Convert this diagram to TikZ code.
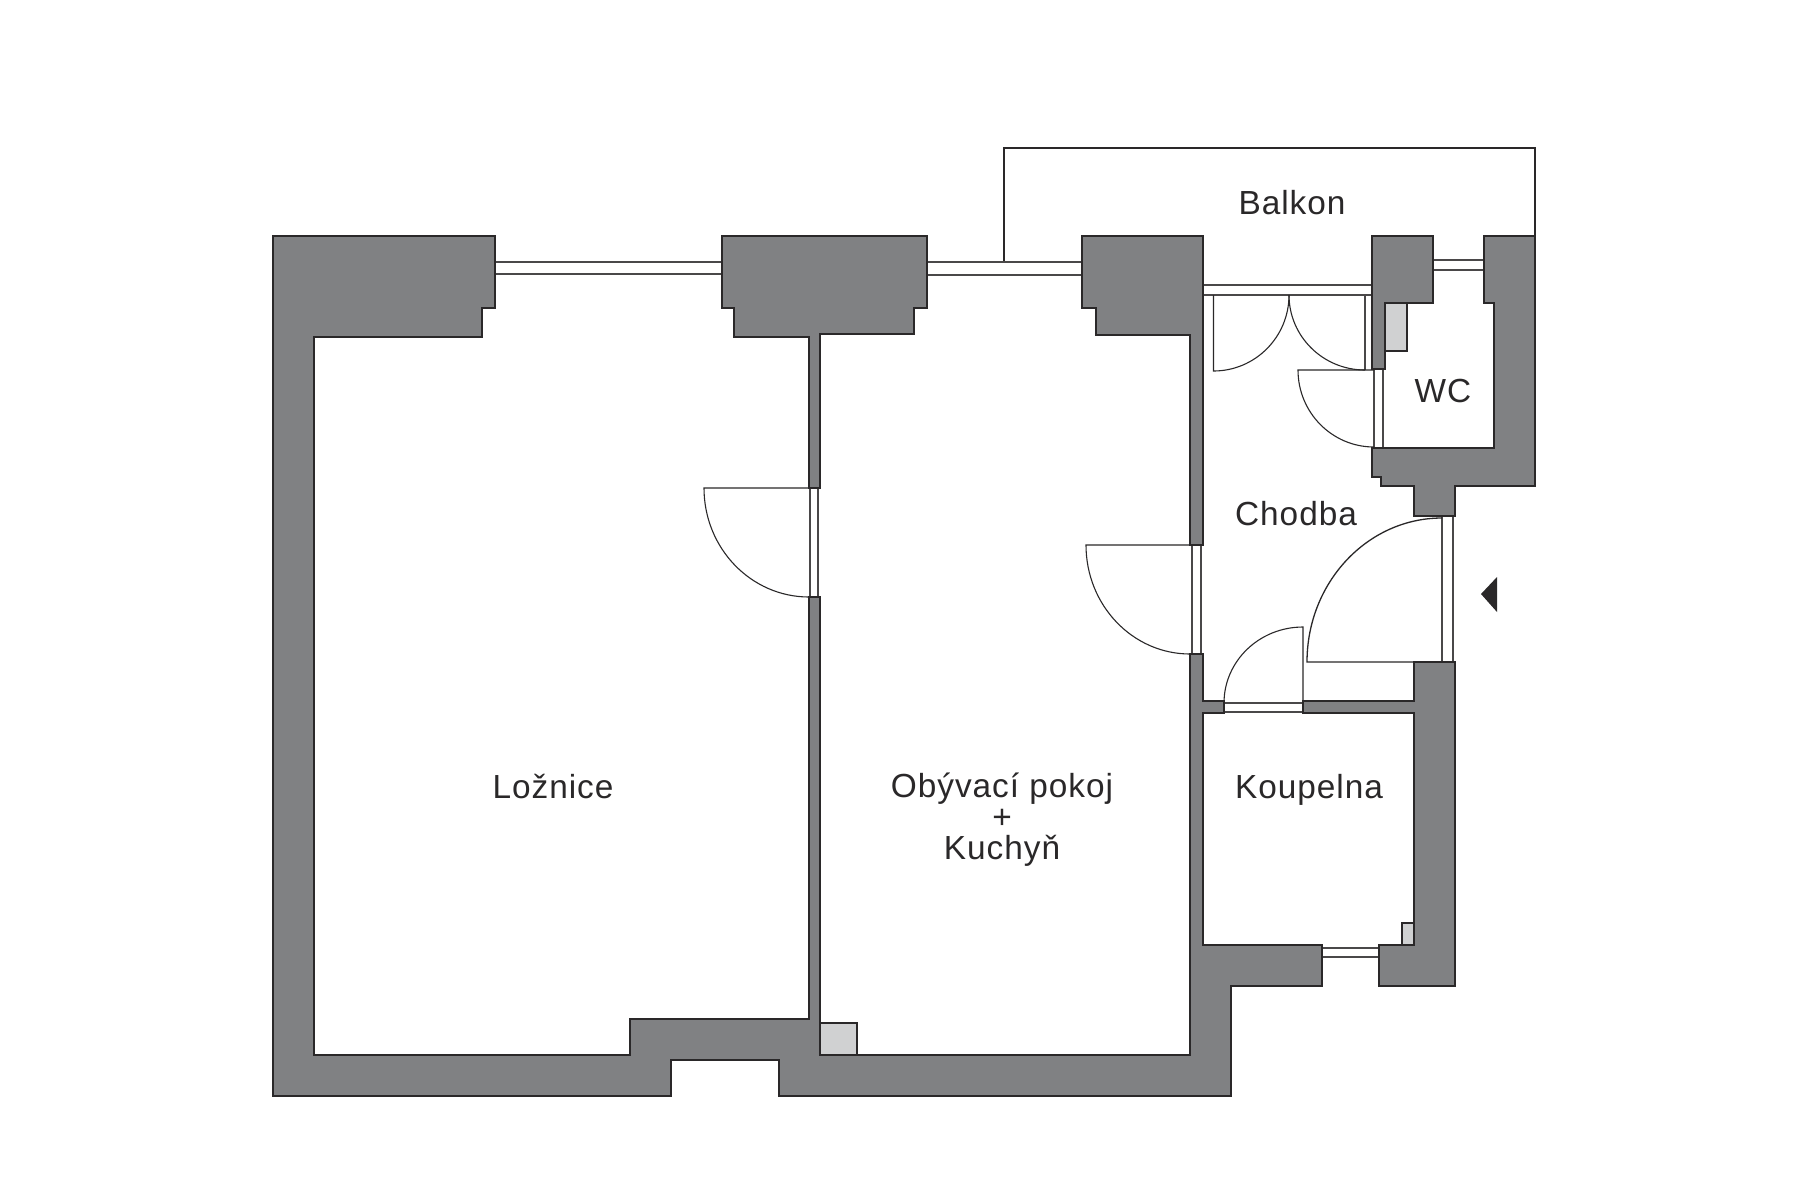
\documentclass[tikz,border=0pt]{standalone}
\usepackage{fontspec}
\setmainfont[LetterSpace=2.9]{Liberation Sans}
\definecolor{wallgray}{HTML}{808183}
\definecolor{boxgray}{HTML}{D0D1D2}
\definecolor{ink}{HTML}{2A2829}
\tikzset{
  x=1bp,y=-1bp,
  wall/.style={draw=ink,fill=wallgray,line width=2.2bp,line join=miter},
  shaft/.style={draw=ink,fill=boxgray,line width=2.2bp},
  thin/.style={draw=ink,line width=1.1bp},
  pane/.style={draw=ink!85,line width=1.1bp},
  label/.style={text=ink,font=\fontsize{33.5}{36}\selectfont,anchor=base,inner sep=0pt}
}
\begin{document}
\begin{tikzpicture}
\useasboundingbox[fill=white] (0,0) rectangle (1800,1200);
% balcony
\draw[thin] (1004,262) -- (1004,148) -- (1535,148) -- (1535,236);
% windows
\draw[pane] (495,262) -- (722,262) (495,274) -- (722,274);
\draw[pane] (927,262) -- (1082,262) (927,275) -- (1082,275);
\draw[pane] (1203,285) -- (1372,285) (1203,295) -- (1372,295);
\draw[pane] (1433,260) -- (1484,260) (1433,270) -- (1484,270);
\draw[pane] (1322,948) -- (1379,948) (1322,957) -- (1379,957);
% door frames
\draw[pane] (810,488) -- (810,597) (818,488) -- (818,597);
\draw[pane] (1192,545) -- (1192,654) (1201,545) -- (1201,654);
\draw[pane] (1374,369) -- (1374,448) (1383,369) -- (1383,448);
\draw[pane] (1442,516) -- (1442,662) (1453,516) -- (1453,662);
\draw[pane] (1224,703) -- (1303,703) (1224,712) -- (1303,712);
\draw[pane] (1365,295) -- (1365,370);
% door leaves and swings
\draw[thin] (809,488) -- (704,488) arc[start angle=180,end angle=90,x radius=105,y radius=109];
\draw[thin] (1190,545) -- (1086,545) arc[start angle=180,end angle=90,x radius=104,y radius=109];
\draw[thin] (1374,370) -- (1298,370) arc[start angle=180,end angle=90,x radius=76,y radius=77];
\draw[thin] (1213.5,295) -- (1213.5,371) arc[start angle=90,end angle=0,x radius=75.5,y radius=76];
\draw[thin] (1365,370) arc[start angle=90,end angle=180,x radius=76,y radius=75];
\draw[thin] (1303,703) -- (1303,627) arc[start angle=-90,end angle=-180,x radius=79,y radius=76];
\draw[thin,line width=1.3bp] (1442,662) -- (1307,662) arc[start angle=180,end angle=270,x radius=135,y radius=144];
% walls
\draw[wall] (273,236) -- (495,236) -- (495,308) -- (482,308) -- (482,337) -- (314,337) -- (314,1055) -- (630,1055) -- (630,1019) -- (809,1019) -- (809,597) -- (820,597) -- (820,1055) -- (1190,1055) -- (1190,654) -- (1203,654) -- (1203,701) -- (1224,701) -- (1224,713) -- (1203,713) -- (1203,945) -- (1322,945) -- (1322,986) -- (1231,986) -- (1231,1096) -- (779,1096) -- (779,1060) -- (671,1060) -- (671,1096) -- (273,1096) -- cycle;
\draw[wall] (722,236) -- (927,236) -- (927,308) -- (914,308) -- (914,334) -- (820,334) -- (820,488) -- (809,488) -- (809,337) -- (734,337) -- (734,308) -- (722,308) -- cycle;
\draw[wall] (1082,236) -- (1203,236) -- (1203,545) -- (1190,545) -- (1190,335) -- (1096,335) -- (1096,308) -- (1082,308) -- cycle;
\draw[wall] (1372,236) -- (1433,236) -- (1433,303) -- (1385,303) -- (1385,369) -- (1372,369) -- cycle;
\draw[wall] (1484,236) -- (1535,236) -- (1535,486) -- (1455,486) -- (1455,516) -- (1414,516) -- (1414,486) -- (1381,486) -- (1381,477) -- (1372,477) -- (1372,448) -- (1494,448) -- (1494,303) -- (1484,303) -- cycle;
\draw[wall] (1303,701) -- (1414,701) -- (1414,662) -- (1455,662) -- (1455,986) -- (1379,986) -- (1379,945) -- (1414,945) -- (1414,713) -- (1303,713) -- cycle;
% shafts
\draw[shaft] (820,1023) rectangle (857,1055);
\draw[shaft] (1385,303) rectangle (1407,351);
\draw[shaft] (1402,923) rectangle (1414,945);
% entrance marker
\fill[ink] (1481,594) -- (1497,577) -- (1497,612) -- cycle;
% labels
\node[label] (balkon) at (1292,214) {Balkon};
\node[label] (wc) at (1443,402) {WC};
\node[label] (chodba) at (1296,525) {Chodba};
\node[label] (koupelna) at (1309,798) {Koupelna};
\node[label] (loznice) at (553,798) {Ložnice};
\node[label] (obyvaci) at (1002,797) {Obývací pokoj};
\node[label] (plus) at (1002,828) {+};
\node[label] (kuchyn) at (1002,859) {Kuchyň};
\end{tikzpicture}
\end{document}
